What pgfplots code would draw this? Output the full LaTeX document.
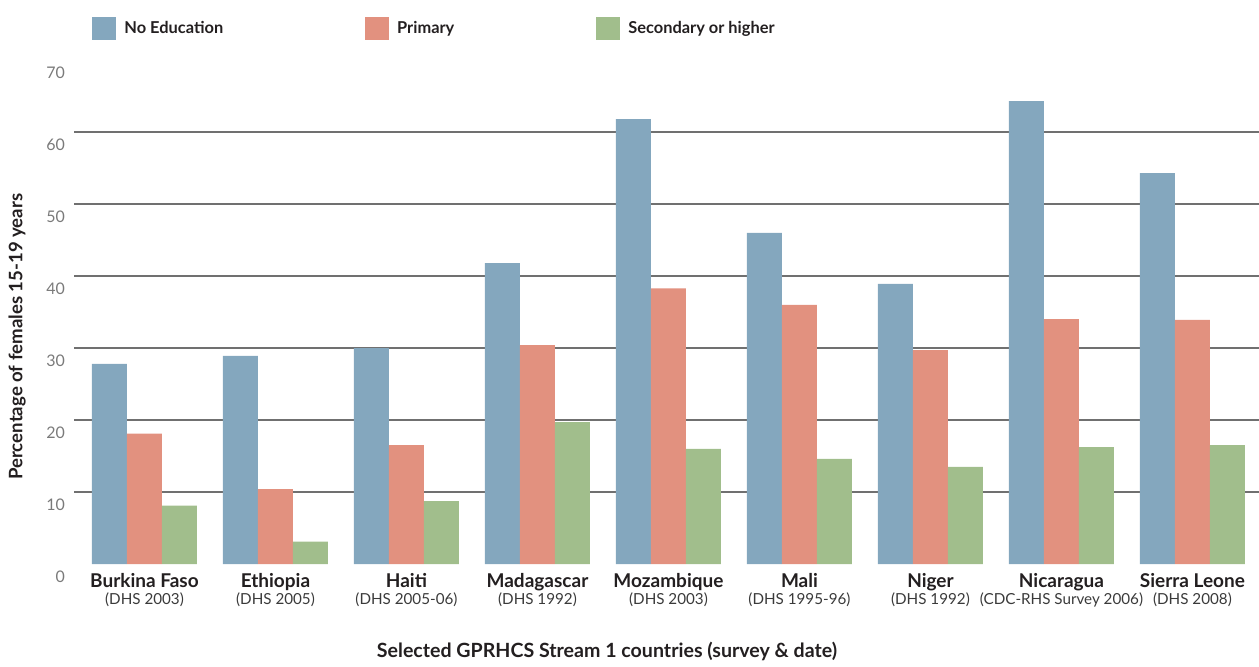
\documentclass[border=0pt]{standalone}
\usepackage{pgfplots}
\pgfplotsset{compat=1.18}
\usepackage{fontspec}
\setmainfont{Lato}
\definecolor{cblue}{HTML}{84A7BE}
\definecolor{cred}{HTML}{E2917F}
\definecolor{cgreen}{HTML}{A1BE8C}
\definecolor{ctext}{HTML}{231F20}
\definecolor{csub}{HTML}{3A3A3A}
\definecolor{cgrid}{HTML}{707070}
\definecolor{ctick}{HTML}{7A7A7A}
\newcommand{\cl}[2]{{\bfseries\fontsize{9.5}{10}\selectfont #1}\\[-3.5pt]{\color{csub}\fontsize{7.6}{8}\selectfont #2}}
\begin{document}
\begin{tikzpicture}
\useasboundingbox (0,0) rectangle (629.5pt,333pt);
\begin{axis}[
  at={(37pt,51pt)}, anchor=south west,
  scale only axis, width=592.5pt, height=252pt,
  xmin=-0.538, xmax=8.508, ymin=0, ymax=70,
  axis line style={draw=none},
  ybar=0pt, bar width=17.5pt,
  ytick={0,10,...,70},
  yticklabel style={font=\fontsize{8}{9}\selectfont, text=ctick, anchor=east, xshift=-1pt, yshift=-6.5pt},
  /pgf/number format/assume math mode=true,
  extra y ticks={10,20,...,60},
  extra y tick labels={},
  extra y tick style={grid=major, major grid style={cgrid, line width=0.6pt}},
  major tick length=0pt,
  xtick={0,...,8},
  xticklabels={
    {\cl{Burkina Faso}{(DHS 2003)}},
    {\cl{Ethiopia}{(DHS 2005)}},
    {\cl{Haiti}{(DHS 2005-06)}},
    {\cl{Madagascar}{(DHS 1992)}},
    {\cl{Mozambique}{(DHS 2003)}},
    {\cl{Mali}{(DHS 1995-96)}},
    {\cl{Niger}{(DHS 1992)}},
    {\cl{Nicaragua}{(CDC-RHS Survey 2006)}},
    {\cl{Sierra Leone}{(DHS 2008)}}},
  xticklabel style={align=center, text=ctext, anchor=north, yshift=-1pt},
  ylabel={Percentage of females 15-19 years},
  ylabel style={at={(axis description cs:-0.048,0.451)}, anchor=center, rotate=0, font=\bfseries\fontsize{9.3}{10}\selectfont, text=ctext},
  xlabel={Selected GPRHCS Stream 1 countries (survey \& date)},
  xlabel style={at={(axis description cs:0.4498,-0.1726)}, anchor=center, font=\bfseries\fontsize{9.8}{11}\selectfont, text=ctext},
  legend columns=3,
  legend style={at={(axis description cs:0.0152,1.086)}, anchor=north west, draw=none, fill=none, inner sep=0pt,
    font=\bfseries\fontsize{8.2}{10}\selectfont, text=ctext,
    /tikz/every even column/.append style={column sep=69pt}},
  legend image code/.code={\fill[#1] (0pt,-5.75pt) rectangle (12pt,5.75pt); \path (14pt,0pt);},
]
\addplot[fill=cblue, draw=none] coordinates {(0,27.8) (1,28.9) (2,30.0) (3,41.8) (4,61.8) (5,46.0) (6,38.9) (7,64.3) (8,54.3)};
\addplot[fill=cred, draw=none] coordinates {(0,18.1) (1,10.4) (2,16.5) (3,30.4) (4,38.3) (5,36.0) (6,29.7) (7,34.0) (8,33.9)};
\addplot[fill=cgreen, draw=none] coordinates {(0,8.1) (1,3.1) (2,8.75) (3,19.7) (4,16.0) (5,14.6) (6,13.5) (7,16.25) (8,16.5)};
\legend{No Education, Primary, Secondary or higher}
\end{axis}
\end{tikzpicture}
\end{document}
